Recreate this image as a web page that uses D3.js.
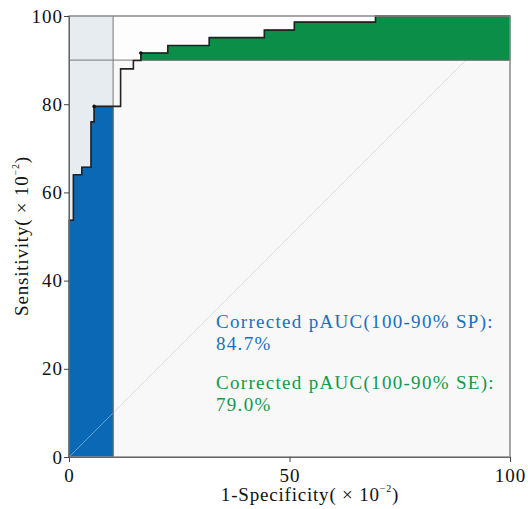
<!DOCTYPE html>
<html>
<head>
<meta charset="utf-8">
<script src="https://cdn.jsdelivr.net/npm/d3@7"></script>
<style>
body { margin: 0; background: #fff; }
text { font-family: "Liberation Serif", "DejaVu Serif", serif; }
</style>
</head>
<body>
<svg id="chart" width="528" height="509"></svg>
<script>
// step ROC curve (1-specificity, sensitivity), x10^-2
var rocFpr = [0, 0, 1.0, 1.0, 2.9, 2.9, 5.0, 5.0, 5.7, 5.7, 11.7, 11.7, 14.6, 14.6, 16.3, 16.3, 22.4, 22.4, 31.8, 31.8, 44.3, 44.3, 51.1, 51.1, 69.5, 69.5, 100];
var rocTpr = [0, 53.7, 53.7, 64.0, 64.0, 65.7, 65.7, 76.0, 76.0, 79.5, 79.5, 88.0, 88.0, 89.9, 89.9, 91.6, 91.6, 93.3, 93.3, 95.1, 95.1, 96.8, 96.8, 98.6, 98.6, 100, 100];
var xTicks = [0, 50, 100];
var yTicks = [0, 20, 40, 60, 80, 100];
var spCut = 10;   // 100-90% specificity
var seCut = 90;   // 100-90% sensitivity
var labels = [
  {line1: "Corrected pAUC(100-90% SP):", line2: "84.7%", color: "#1a6fc0"},
  {line1: "Corrected pAUC(100-90% SE):", line2: "79.0%", color: "#119a4c"}
];

var roc = rocFpr.map(function(d, i){ return {x: d, y: rocTpr[i]}; });

var svg = d3.select("#chart"),
  margin = {top: 16, right: 18, bottom: 52, left: 69},
  width = 528 - margin.left - margin.right,
  height = 509 - margin.top - margin.bottom;

var g = svg.append("g").attr("transform", "translate(" + margin.left + "," + margin.top + ")");

var x = d3.scaleLinear().domain([0, 100]).range([0, width]);
var y = d3.scaleLinear().domain([0, 100]).range([height, 0]);

// plot background
g.append("rect").attr("width", width).attr("height", height).attr("fill", "#f8f8f8");

// top band (sensitivity 90-100)
g.append("rect")
  .attr("x", 0).attr("y", y(100))
  .attr("width", x(100)).attr("height", y(seCut) - y(100))
  .attr("fill", "#fdfdfd");

// diagonal
g.append("line")
  .attr("x1", x(0)).attr("y1", y(0)).attr("x2", x(seCut)).attr("y2", y(seCut))
  .attr("stroke", "#dedede").attr("stroke-width", 1);

// specificity region box
g.append("rect")
  .attr("x", x(0)).attr("y", y(100))
  .attr("width", x(spCut) - x(0)).attr("height", y(0) - y(100))
  .attr("fill", "#e7ecf0");

// blue area under curve for fpr 0-10
var spPart = roc.filter(function(d){ return d.x <= spCut; });
spPart.push({x: spCut, y: spPart[spPart.length - 1].y});
var area = d3.area().x(function(d){ return x(d.x); }).y0(y(0)).y1(function(d){ return y(d.y); });
g.append("path").datum(spPart)
  .attr("d", area)
  .attr("fill", "#0b68b5").attr("stroke", "#0a4f8c").attr("stroke-width", 1);

// green area between sensitivity 90 and curve
var sePart = roc.filter(function(d){ return d.y >= seCut + 1; });
var areaSe = d3.area().x(function(d){ return x(d.x); }).y0(y(seCut)).y1(function(d){ return y(d.y); });
g.append("path").datum(sePart)
  .attr("d", areaSe)
  .attr("fill", "#0b8f48").attr("stroke", "#0b6a36").attr("stroke-width", 1);

// diagonal again over the blue
g.append("line")
  .attr("x1", x(0)).attr("y1", y(0)).attr("x2", x(spCut)).attr("y2", y(spCut))
  .attr("stroke", "#6fa2d2").attr("stroke-width", 1);

// cut lines
g.append("line")
  .attr("x1", x(spCut)).attr("x2", x(spCut)).attr("y1", y(0)).attr("y2", y(100))
  .attr("stroke", "#777").attr("stroke-width", 1);
g.append("line")
  .attr("x1", x(0)).attr("x2", x(100)).attr("y1", y(seCut)).attr("y2", y(seCut))
  .attr("stroke", "#777").attr("stroke-width", 1);

// roc curve
var line = d3.line().x(function(d){ return x(d.x); }).y(function(d){ return y(d.y); });
g.append("path").datum(roc)
  .attr("d", line)
  .attr("fill", "none").attr("stroke", "#222").attr("stroke-width", 1.6);

g.selectAll(".dot").data([roc[9], roc[15]]).enter().append("circle")
  .attr("cx", function(d){ return x(d.x); })
  .attr("cy", function(d){ return y(d.y); })
  .attr("r", 1.8).attr("fill", "#111");

// plot border
g.append("rect").attr("width", width).attr("height", height)
  .attr("fill", "none").attr("stroke", "#8a8a8a").attr("stroke-width", 1.5);

// axes
var xAxis = g.append("g").attr("transform", "translate(0," + height + ")")
  .call(d3.axisBottom(x).tickValues(xTicks).tickSize(5).tickPadding(2));
var yAxis = g.append("g")
  .call(d3.axisLeft(y).tickValues(yTicks).tickSize(5).tickPadding(1));
[xAxis, yAxis].forEach(function(a){
  a.select(".domain").attr("stroke", "#666");
  a.selectAll(".tick line").attr("stroke", "#444");
  a.selectAll("text").attr("font-size", 19).attr("fill", "#111")
    .attr("letter-spacing", 1)
    .attr("font-family", "Liberation Serif, serif");
});
xAxis.selectAll("text").attr("dy", "0.95em");

// axis titles
var xt = svg.append("text")
  .attr("x", 310).attr("y", 501)
  .attr("text-anchor", "middle").attr("font-size", 19).attr("letter-spacing", 0.8).attr("fill", "#111");
xt.append("tspan").text("1-Specificity( \u00d7 10");
xt.append("tspan").attr("font-size", 10).attr("dy", -9).text("\u22122");
xt.append("tspan").attr("dy", 9).text(")");

var yt = svg.append("text")
  .attr("transform", "translate(28," + 236 + ") rotate(-90)")
  .attr("text-anchor", "middle").attr("font-size", 19).attr("letter-spacing", 0.8).attr("fill", "#111");
yt.append("tspan").text("Sensitivity( \u00d7 10");
yt.append("tspan").attr("font-size", 10).attr("dy", -9).text("\u22122");
yt.append("tspan").attr("dy", 9).text(")");

// pAUC labels
labels.forEach(function(l, i){
  var t = svg.append("text")
    .attr("x", 216).attr("y", 328 + i * 61)
    .attr("font-size", 19).attr("letter-spacing", 1.3).attr("fill", l.color);
  t.append("tspan").attr("x", 216).text(l.line1);
  t.append("tspan").attr("x", 216).attr("dy", 22).text(l.line2);
});
</script>
</body>
</html>
